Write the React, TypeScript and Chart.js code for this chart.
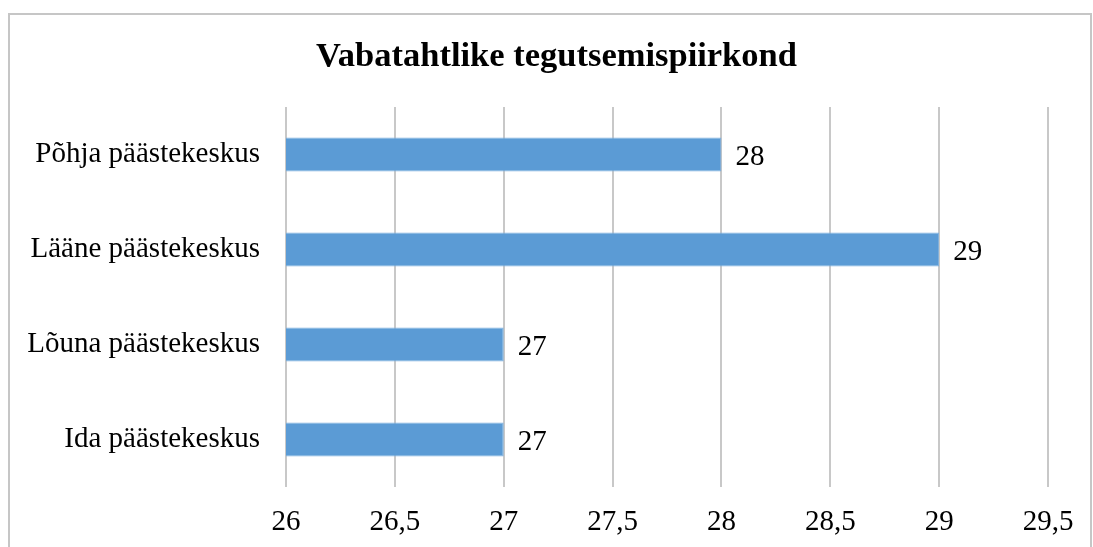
import React, { useEffect, useRef } from "react";
import { Chart, registerables } from "chart.js";

Chart.register(...registerables);

const categories = ["Põhja päästekeskus", "Lääne päästekeskus", "Lõuna päästekeskus", "Ida päästekeskus"];
const values = [28, 29, 27, 27];
const axisMin = 26;
const axisMax = 29.5;
const axisStep = 0.5;
const titleText = "Vabatahtlike tegutsemispiirkond";

const FONT = "'Times New Roman', 'Liberation Serif', serif";
const LABEL_SIZE = 29;

const framePlugin = {
  id: "frame",
  beforeDraw(chart: any) {
    const ctx = chart.ctx;
    ctx.save();
    ctx.fillStyle = "#ffffff";
    ctx.fillRect(0, 0, chart.width, chart.height);
    ctx.strokeStyle = "#c6c6c6";
    ctx.lineWidth = 2;
    ctx.strokeRect(9, 14, 1082, 560);
    ctx.font = `bold 34.5px ${FONT}`;
    ctx.fillStyle = "#000000";
    ctx.textAlign = "center";
    ctx.textBaseline = "alphabetic";
    ctx.fillText(titleText, 556.5, 66);
    ctx.restore();
  },
};

const valueLabels = {
  id: "valueLabels",
  afterDatasetsDraw(chart: any) {
    const ctx = chart.ctx;
    const meta = chart.getDatasetMeta(0);
    ctx.save();
    ctx.font = `${LABEL_SIZE}px ${FONT}`;
    ctx.fillStyle = "#000000";
    ctx.textAlign = "left";
    ctx.textBaseline = "alphabetic";
    meta.data.forEach((bar: any, i: number) => {
      const v = chart.data.datasets[0].data[i];
      ctx.fillText(String(v).replace(".", ","), bar.x + 14, bar.y + 10);
    });
    ctx.restore();
  },
};

export default function App() {
  const ref = useRef<HTMLCanvasElement>(null);
  useEffect(() => {
    if (!ref.current) return;
    const chart = new Chart(ref.current, {
      type: "bar",
      data: {
        labels: categories,
        datasets: [
          {
            data: values,
            backgroundColor: "#5B9BD5",
            borderColor: "#7fb1df",
            borderWidth: 1,
            barPercentage: 0.36,
            categoryPercentage: 1,
          },
        ],
      },
      options: {
        indexAxis: "y",
        animation: false,
        responsive: false,
        maintainAspectRatio: false,
        layout: { padding: { top: 107, left: 16, right: 45, bottom: 0 } },
        plugins: {
          legend: { display: false },
          tooltip: { enabled: false },
          title: { display: false },
        },
        scales: {
          x: {
            min: axisMin,
            max: axisMax,
            afterFit: (scale: any) => {
              scale.height = 60;
            },
            ticks: {
              stepSize: axisStep,
              color: "#000000",
              padding: 18,
              font: { family: FONT, size: LABEL_SIZE, lineHeight: 1.2 },
              callback: (v: any) => String(v).replace(".", ","),
            },
            grid: { color: "#c8c8c8", lineWidth: 2, drawTicks: false },
            border: { display: false },
          },
          y: {
            afterFit: (scale: any) => {
              scale.width = 270;
            },
            ticks: {
              color: "#000000",
              padding: 26,
              font: { family: FONT, size: LABEL_SIZE, lineHeight: 1.2 },
            },
            grid: { display: false, drawTicks: false },
            border: { display: false },
          },
        },
      },
      plugins: [framePlugin, valueLabels],
    } as any);
    return () => chart.destroy();
  }, []);
  return (
    <canvas
      ref={ref}
      width={1093}
      height={547}
      style={{ position: "absolute", left: 0, top: 0, width: 1093, height: 547 }}
    />
  );
}
